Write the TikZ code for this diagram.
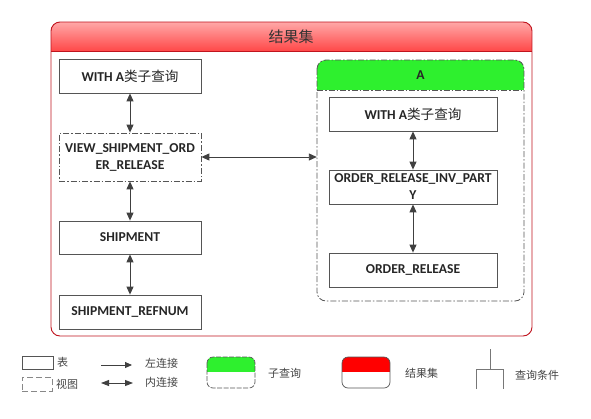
\documentclass[tikz,border=0pt]{standalone}
\usepackage{fontspec}
\setmainfont{Carlito}
\newfontfamily\cjk{Noto Sans CJK SC}
\usetikzlibrary{arrows.meta}
\definecolor{edge}{HTML}{555555}
\definecolor{arr}{HTML}{404040}
\definecolor{darkred}{HTML}{C0141E}
\definecolor{hdrtop}{HTML}{FFA8A8}
\definecolor{hdrbot}{HTML}{FF4848}
\definecolor{grn}{HTML}{2EF02E}
\definecolor{legtxt}{HTML}{444444}
\tikzset{
  tbl/.style={draw=edge, line width=0.8pt, fill=white, minimum width=142pt, minimum height=34pt,
    inner sep=1pt, align=center, font=\fontsize{13.6}{17}\selectfont\bfseries, text=black!85},
  viewbox/.style={tbl, dash pattern=on 6pt off 2pt on 1.5pt off 2pt},
  dbl/.style={draw=arr, line width=0.9pt, {Triangle[length=8pt,width=7pt]}-{Triangle[length=8pt,width=7pt]}},
  sgl/.style={draw=arr, line width=0.9pt, -{Triangle[length=7pt,width=6pt]}},
  legtext/.style={font=\cjk\fontsize{11}{12}\selectfont, text=legtxt, anchor=west, inner sep=0pt},
  grpdash/.style={dash pattern=on 6pt off 2pt on 1.5pt off 2pt},
}
\begin{document}
\begin{tikzpicture}[x=1pt,y=-1pt]
\useasboundingbox (0,0) rectangle (591,418);
% ---------- outer result set ----------
\begin{scope}
  \clip[rounded corners=9pt] (51,22) rectangle (532,336);
  \fill[white] (51,22) rectangle (532,336);
  \shade[top color=hdrtop, bottom color=hdrbot] (51,22) rectangle (532,51);
\end{scope}
\draw[darkred, line width=0.9pt] (51,51) -- (532,51);
\draw[darkred, line width=0.9pt, rounded corners=9pt] (51,22) rectangle (532,336);
\node[font=\cjk\fontsize{15}{17}\selectfont, text=black!80] (title) at (291,36.5) {结果集};
% ---------- group A ----------
\node[minimum width=207pt, minimum height=241pt, inner sep=0pt] (A) at (420.5,180.5) {};
\begin{scope}
  \clip[rounded corners=9pt] (317,60) rectangle (524,301);
  \fill[white] (317,60) rectangle (524,301);
  \fill[grn] (317,60) rectangle (524,90);
\end{scope}
\draw[edge, line width=0.8pt, grpdash] (317,90) -- (524,90);
\draw[edge, line width=0.8pt, grpdash, rounded corners=9pt] (317,60) rectangle (524,301);
\node[font=\fontsize{13.6}{15}\selectfont\bfseries, text=black!85] (Atitle) at (420.5,75) {A};
% ---------- left column ----------
\node[tbl] (w1) at (130,76) {WITH A{\cjk\mdseries 类子查询}};
\node[viewbox, minimum height=48pt] (v1) at (130,157) {VIEW\_SHIPMENT\_ORD\\ER\_RELEASE};
\node[tbl, minimum height=33pt] (s1) at (130,237.5) {SHIPMENT};
\node[tbl] (r1) at (130,312) {SHIPMENT\_REFNUM};
\draw[dbl] (w1.south) -- (v1.north);
\draw[dbl] (v1.south) -- (s1.north);
\draw[dbl] (s1.south) -- (r1.north);
% ---------- group A contents ----------
\node[tbl, minimum width=168pt] (w2) at (413,114) {WITH A{\cjk\mdseries 类子查询}};
\node[tbl, minimum width=168pt] (o2) at (413,187) {ORDER\_RELEASE\_INV\_PART\\Y};
\node[tbl, minimum width=168pt] (or2) at (413,270) {ORDER\_RELEASE};
\draw[dbl] (w2.south) -- (o2.north);
\draw[dbl] (o2.south) -- (or2.north);
% ---------- view to group ----------
\draw[dbl] (v1.east) -- (v1.east -| A.west);
% ---------- legend ----------
\node[draw=edge, line width=0.7pt, minimum width=31pt, minimum height=13pt, inner sep=0pt] (lt) at (37.5,362.5) {};
\node[legtext] (ltl) at (57,362) {表};
\node[draw=edge!70, line width=0.7pt, dash pattern=on 6pt off 3pt, minimum width=30pt, minimum height=14pt, inner sep=0pt] (lv) at (37,384) {};
\node[legtext] (lvl) at (56,384) {视图};
\coordinate (la1) at (101,365);
\coordinate (la2) at (132,365);
\draw[sgl] (la1) -- (la2);
\node[legtext] (lal) at (145,363) {左连接};
\coordinate (lb1) at (101,383);
\coordinate (lb2) at (133,383);
\draw[dbl, {Triangle[length=8pt,width=6pt]}-{Triangle[length=8pt,width=6pt]}] (lb1) -- (lb2);
\node[legtext] (lbl) at (145,382) {内连接};
% green legend
\begin{scope}
  \clip[rounded corners=6pt] (207,357) rectangle (255,388);
  \fill[white] (207,357) rectangle (255,388);
  \fill[grn] (207,357) rectangle (255,372);
\end{scope}
\draw[edge, line width=0.7pt, dash pattern=on 5pt off 1.5pt, rounded corners=6pt] (207,357) rectangle (255,388);
\node[legtext] (lgl) at (268,373) {子查询};
% red legend
\begin{scope}
  \clip[rounded corners=6pt] (342,357) rectangle (390,388);
  \fill[white] (342,357) rectangle (390,388);
  \fill[red] (342,357) rectangle (390,372);
\end{scope}
\draw[edge, line width=0.7pt, rounded corners=6pt] (342,357) rectangle (390,388);
\node[legtext] (lrl) at (405,373) {结果集};
% query condition
\draw[edge!80, line width=0.8pt] (490,349) -- (490,369);
\draw[edge!80, line width=0.8pt] (476,389) -- (476,369) -- (503,369) -- (503,389);
\node[legtext] (lql) at (515,375) {查询条件};
\end{tikzpicture}
\end{document}
